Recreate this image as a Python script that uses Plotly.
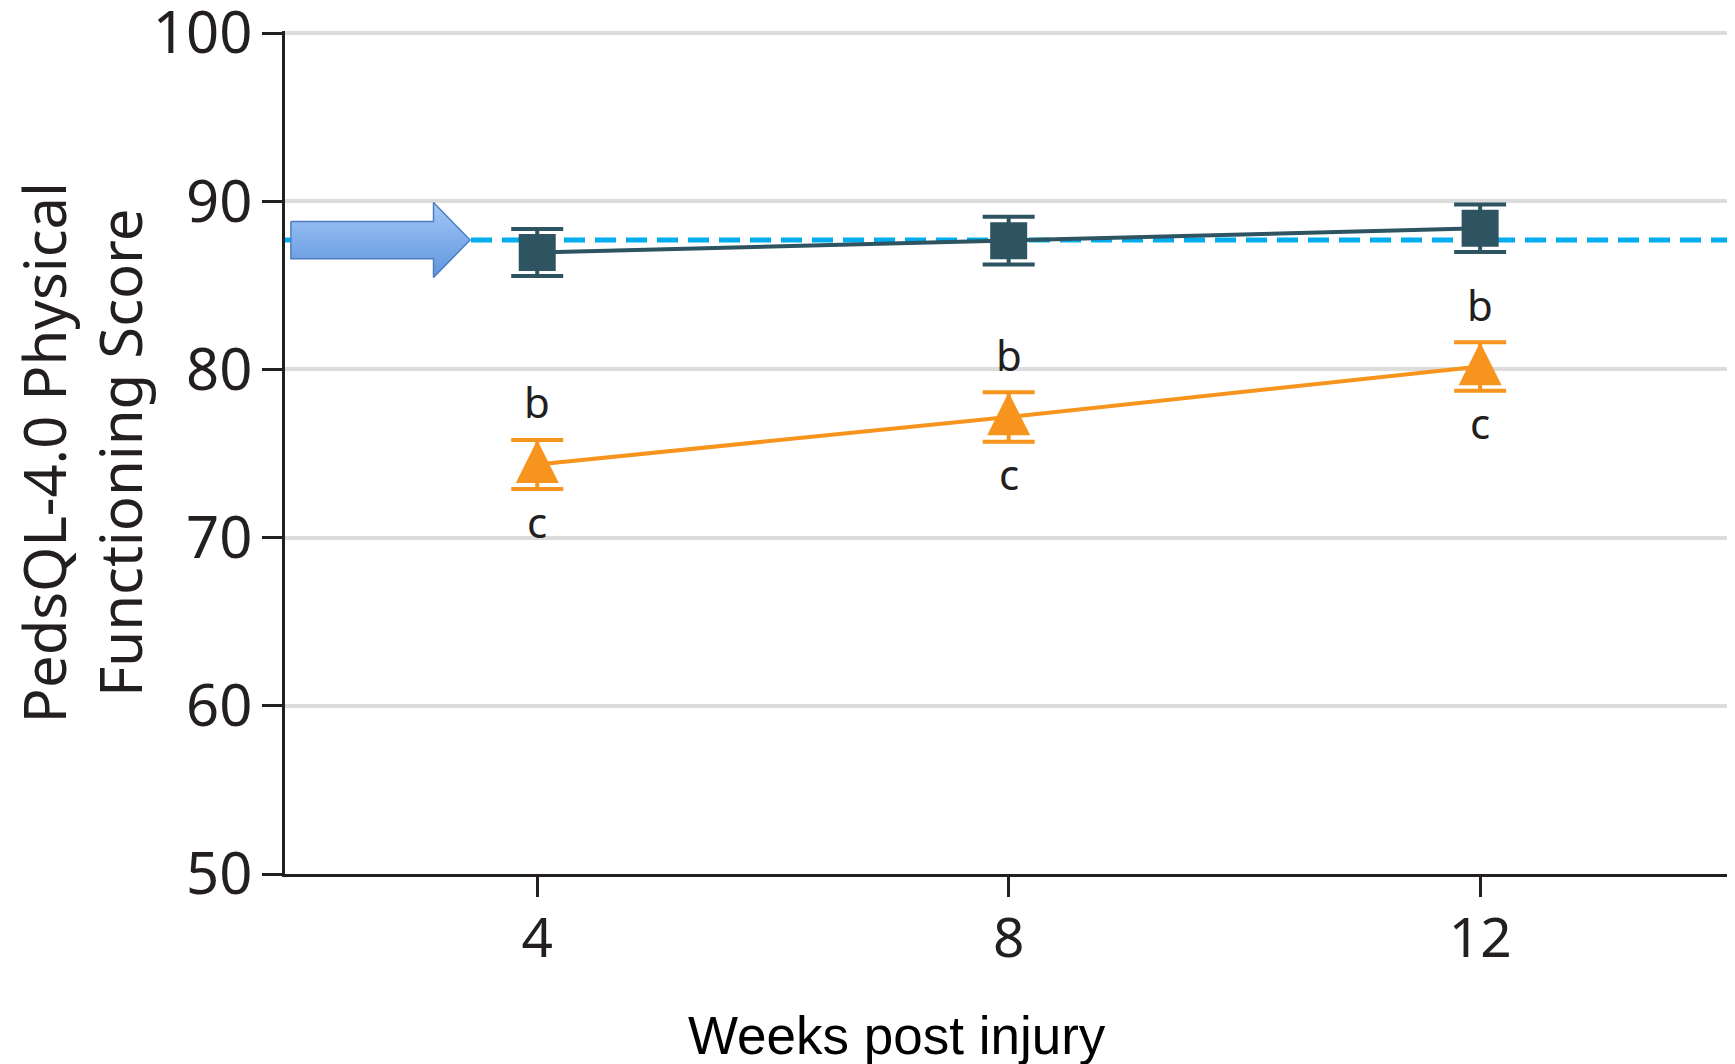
import plotly.graph_objects as go

# ---------------- data ----------------
weeks = [4, 8, 12]
week_tick_labels = ["4", "8", "12"]
y_tick_values = [50, 60, 70, 80, 90, 100]
y_tick_labels = ["50", "60", "70", "80", "90", "100"]

group_a_mean = [86.95, 87.65, 88.39]   # dark squares
group_a_err = [1.40, 1.42, 1.41]
group_b_mean = [74.35, 77.17, 80.17]   # orange triangles
group_b_err = [1.46, 1.47, 1.44]

upper_letters = ["b", "b", "b"]
lower_letters = ["c", "c", "c"]

reference_score = 87.69

# ---------------- style ----------------
DARK = "#2E5461"
ORANGE = "#F7941D"
DASH_BLUE = "#00AEEF"
GRID = "#DCDCDC"
AXIS = "#231F20"
TEXT = "#231F20"
FONT = "Noto Sans"

X_RANGE = [1.86, 14.12]
Y_RANGE = [50, 100.12]

# arrow geometry (x in axis units, half heights in score units relative to reference line)
ARROW_TAIL_X, ARROW_NECK_X, ARROW_TIP_X = 1.91, 3.12, 3.43
ARROW_BODY_HALF, ARROW_HEAD_HALF = 1.11, 2.23

# page body adds an 8px margin; compensate so the chart fills 1735x1064
PAGE_PAD = 8

fig = go.Figure()

# arrow pointing at the reference line
r = reference_score
arrow_x = [ARROW_TAIL_X, ARROW_NECK_X, ARROW_NECK_X, ARROW_TIP_X,
           ARROW_NECK_X, ARROW_NECK_X, ARROW_TAIL_X, ARROW_TAIL_X]
arrow_y = [r + ARROW_BODY_HALF, r + ARROW_BODY_HALF, r + ARROW_HEAD_HALF, r,
           r - ARROW_HEAD_HALF, r - ARROW_BODY_HALF, r - ARROW_BODY_HALF, r + ARROW_BODY_HALF]
fig.add_trace(go.Scatter(
    x=arrow_x, y=arrow_y, mode="lines", fill="toself",
    line=dict(color="#4F7FC0", width=1.5),
    fillgradient=dict(type="vertical",
                      colorscale=[[0, "#5F94DC"], [1, "#A2C8F9"]]),
    hoverinfo="skip", showlegend=False,
))

# dark series
fig.add_trace(go.Scatter(
    x=weeks, y=group_a_mean, mode="lines+markers",
    line=dict(color=DARK, width=4),
    marker=dict(symbol="square", size=37, color=DARK),
    error_y=dict(type="data", array=group_a_err, visible=True,
                 color=DARK, thickness=4, width=26),
    showlegend=False,
))

# orange series line + error bars
fig.add_trace(go.Scatter(
    x=weeks, y=group_b_mean, mode="lines",
    line=dict(color=ORANGE, width=4),
    error_y=dict(type="data", array=group_b_err, visible=True,
                 color=ORANGE, thickness=4, width=26),
    showlegend=False,
))
# orange triangles (tip at the upper bound, base on the lower bound)
fig.add_trace(go.Scatter(
    x=weeks, y=[m + e for m, e in zip(group_b_mean, group_b_err)], mode="markers",
    marker=dict(symbol="arrow-up", size=43, color=ORANGE, line=dict(width=0)),
    showlegend=False, hoverinfo="skip",
))

# reference dashed line
fig.add_shape(type="line", xref="paper", x0=0, x1=1, yref="y",
              y0=reference_score, y1=reference_score, layer="between",
              line=dict(color=DASH_BLUE, width=5, dash="21px,10px"))

# significance letters
for w, m, e, up, lo in zip(weeks, group_b_mean, group_b_err, upper_letters, lower_letters):
    fig.add_annotation(x=w, y=m + e, text=up, showarrow=False,
                       yanchor="middle", yshift=38,
                       font=dict(family=FONT, size=42, color=TEXT))
    fig.add_annotation(x=w, y=m - e, text=lo, showarrow=False,
                       yanchor="middle", yshift=-32,
                       font=dict(family=FONT, size=42, color=TEXT))

# x axis title (as in the original, offset left of plot centre)
fig.add_annotation(xref="paper", yref="paper", x=0.4234, y=-0.1914,
                   text="Weeks post injury", showarrow=False,
                   xanchor="center", yanchor="middle",
                   font=dict(family="Liberation Sans", size=53, color="black"))

# y axis title
fig.add_annotation(xref="paper", yref="paper", x=-0.1414, y=0.5,
                   text="PedsQL-4.0 Physical<br>Functioning Score", showarrow=False,
                   textangle=-90, xanchor="center", yanchor="middle",
                   font=dict(family=FONT, size=58, color=TEXT))

fig.update_layout(
    width=1735 - PAGE_PAD, height=1064 - PAGE_PAD,
    margin=dict(l=285 - PAGE_PAD, r=5 - 0, t=31 - PAGE_PAD, b=190 - 0),
    paper_bgcolor="white", plot_bgcolor="white",
    font=dict(family=FONT, color=TEXT),
)
fig.update_xaxes(
    range=X_RANGE, tickmode="array", tickvals=weeks, ticktext=week_tick_labels,
    showgrid=False, zeroline=False, automargin=False,
    showline=True, linecolor=AXIS, linewidth=3,
    ticks="outside", ticklen=20, tickwidth=2.5, tickcolor=AXIS,
    tickfont=dict(family=FONT, size=55, color=TEXT), ticklabelstandoff=-6,
    ticklabeloverflow="allow",
)
fig.update_yaxes(
    range=Y_RANGE, tickmode="array", tickvals=y_tick_values, ticktext=y_tick_labels,
    showgrid=True, gridcolor=GRID, gridwidth=4, zeroline=False, automargin=False,
    showline=True, linecolor=AXIS, linewidth=3,
    ticks="outside", ticklen=20, tickwidth=2.5, tickcolor=AXIS,
    tickfont=dict(family=FONT, size=58, color=TEXT), ticklabelstandoff=-2,
    ticklabeloverflow="allow",
)

fig.write_html("out.html")
